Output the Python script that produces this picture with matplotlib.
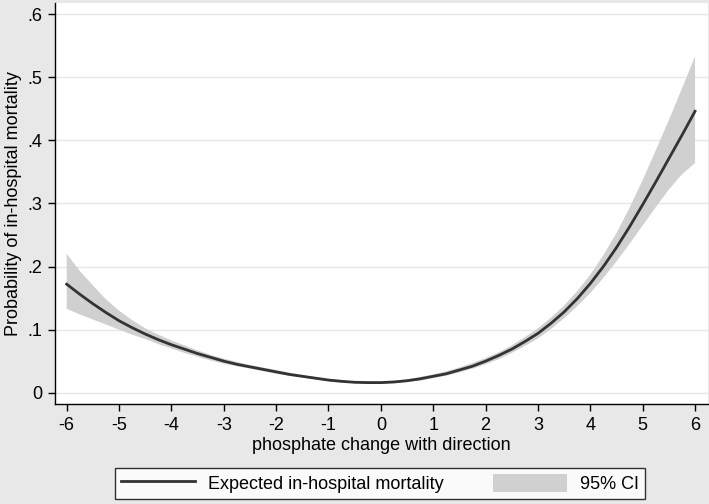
import matplotlib
matplotlib.use('Agg')
import matplotlib.pyplot as plt

plt.rcParams['font.family'] = ['Liberation Sans', 'DejaVu Sans']

# phosphate change, read at quarter steps
x_vals = [-6.00, -5.75, -5.50, -5.25, -5.00, -4.75, -4.50, -4.25, -4.00,
          -3.75, -3.50, -3.25, -3.00, -2.75, -2.50, -2.25, -2.00, -1.75,
          -1.50, -1.25, -1.00, -0.75, -0.50, -0.25, 0.00, 0.25, 0.50, 0.75,
          1.00, 1.25, 1.50, 1.75, 2.00, 2.25, 2.50, 2.75, 3.00, 3.25, 3.50,
          3.75, 4.00, 4.25, 4.50, 4.75, 5.00, 5.25, 5.50, 5.75, 6.00]
expected = [0.172, 0.156, 0.141, 0.127, 0.114, 0.103, 0.093, 0.084, 0.076,
            0.069, 0.062, 0.056, 0.050, 0.045, 0.041, 0.037, 0.033, 0.029,
            0.026, 0.023, 0.020, 0.018, 0.0165, 0.016, 0.016, 0.017, 0.019, 0.022,
            0.026, 0.030, 0.036, 0.042, 0.050, 0.059, 0.069, 0.081, 0.094, 0.110, 0.128,
            0.149, 0.173, 0.200, 0.230, 0.263, 0.298, 0.334, 0.371, 0.408, 0.446]
ci_upper = [0.220, 0.193, 0.170, 0.148, 0.130, 0.115, 0.102, 0.092, 0.083,
            0.075, 0.067, 0.060, 0.054, 0.049, 0.044, 0.040, 0.036, 0.032,
            0.028, 0.025, 0.022, 0.020, 0.018, 0.018, 0.018, 0.019, 0.021, 0.025,
            0.029, 0.034, 0.040, 0.047, 0.055, 0.064, 0.075, 0.088, 0.102, 0.119, 0.138,
            0.161, 0.187, 0.218, 0.253, 0.293, 0.337, 0.384, 0.432, 0.482, 0.533]
ci_lower = [0.133, 0.124, 0.116, 0.108, 0.100, 0.092, 0.085, 0.077, 0.070,
            0.063, 0.057, 0.051, 0.046, 0.042, 0.038, 0.034, 0.030, 0.027,
            0.024, 0.021, 0.018, 0.016, 0.015, 0.014, 0.014, 0.015, 0.017, 0.019,
            0.023, 0.027, 0.032, 0.038, 0.045, 0.053, 0.063, 0.074, 0.086, 0.101, 0.118,
            0.137, 0.158, 0.182, 0.208, 0.236, 0.265, 0.294, 0.322, 0.346, 0.364]

x_ticks = [-6, -5, -4, -3, -2, -1, 0, 1, 2, 3, 4, 5, 6]
y_ticks = [0, 0.1, 0.2, 0.3, 0.4, 0.5, 0.6]
y_labels = ['0', '.1', '.2', '.3', '.4', '.5', '.6']

fig = plt.figure(figsize=(7.09, 5.04), dpi=100, facecolor='#e8e8e8')
ax = fig.add_axes([0.0776, 0.1978, 0.921, 0.796])
ax.set_facecolor('white')

ax.fill_between(x_vals, ci_lower, ci_upper, facecolor='#d0d0d0', edgecolor='none',
                label='95% CI', zorder=2)
ax.plot(x_vals, expected, color='#333333', linewidth=2.0,
        label='Expected in-hospital mortality', zorder=3)

ax.set_xlim(-6.223, 6.248)
ax.set_ylim(-0.0184, 0.6174)
ax.set_xticks(x_ticks)
ax.set_xticklabels([str(t) for t in x_ticks])
ax.set_yticks(y_ticks)
ax.set_yticklabels(y_labels)
ax.grid(axis='y', color='#e6e6e6', linewidth=1.0, zorder=0)
ax.set_axisbelow(True)

for side in ['top', 'right']:
    ax.spines[side].set_visible(False)
for side in ['left', 'bottom']:
    ax.spines[side].set_color('black')
    ax.spines[side].set_linewidth(1.0)

ax.tick_params(axis='both', direction='out', length=5, width=1, labelsize=13,
               colors='black', pad=4)
ax.set_xlabel('phosphate change with direction', fontsize=13, labelpad=2)
ax.set_ylabel('Probability of in-hospital mortality', fontsize=13, labelpad=4)

handles, labels = ax.get_legend_handles_labels()
leg = fig.legend(handles[::-1], labels[::-1], loc='center',
                 bbox_to_anchor=(0.536, 0.0407), ncol=2, fontsize=13,
                 frameon=True, fancybox=False, edgecolor='black',
                 handlelength=4.1, handleheight=1.15, handletextpad=0.7,
                 columnspacing=2.75, borderpad=0.35)
leg.get_frame().set_linewidth(1.0)
leg.get_frame().set_facecolor('white')

plt.savefig('out.png', dpi=100, facecolor=fig.get_facecolor())
